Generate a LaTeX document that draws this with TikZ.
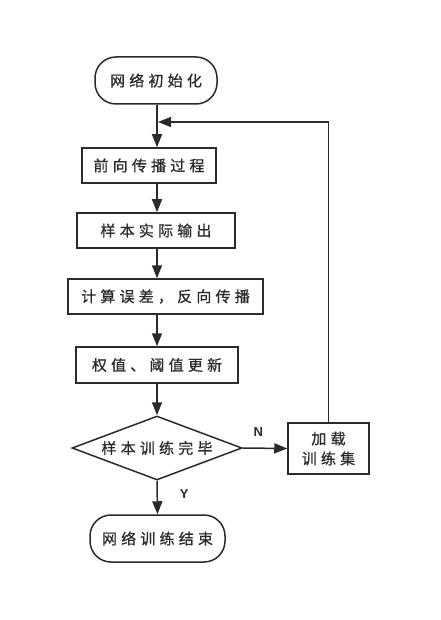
\documentclass[tikz,border=0pt]{standalone}
\usepackage{fontspec}
\usetikzlibrary{shapes.geometric,arrows.meta}
\newfontfamily\cjk[LetterSpace=28,FakeBold=0.8]{Noto Sans CJK SC}
\newfontfamily\lbl{Liberation Sans}
\definecolor{ink}{HTML}{2B2B2B}
\tikzset{
  base/.style={draw=ink, line width=1.5pt, text=ink, font=\cjk\fontsize{15}{20}\selectfont, inner sep=0pt, align=center},
  procbox/.style={base, rectangle, minimum height=35pt},
  termbox/.style={base, rectangle, rounded corners=21pt, minimum height=47pt},
  decbox/.style={base, diamond, aspect=2.7, minimum width=170pt, minimum height=64pt},
  flow/.style={draw=ink, line width=1.5pt, -{Triangle[length=13pt,width=10pt]}},
  yn/.style={text=ink, font=\lbl\bfseries\fontsize{13}{14}\selectfont, inner sep=0pt}
}
\begin{document}
\begin{tikzpicture}[x=1pt,y=1pt]
\useasboundingbox[fill=white] (0,0) rectangle (440,-620);
\coordinate (spine) at (157,0);
\node[termbox, minimum width=122pt] (start) at (156,-80.5) {网络初始化};
\node[procbox, minimum width=134pt] (b1) at (149,-165.5) {前向传播过程};
\node[procbox, minimum width=158pt] (b2) at (156,-230.5) {样本实际输出};
\node[procbox, minimum width=195pt] (b3) at (165.5,-296.5) {计算误差，反向传播};
\node[procbox, minimum width=162pt, minimum height=36pt] (b4) at (157,-365) {权值、阈值更新};
\node[decbox] (dec) at (157,-448) {样本训练完毕};
\node[procbox, minimum width=81pt, minimum height=51pt] (load) at (328.5,-448.5) {加载\\训练集};
\node[termbox, minimum width=135pt] (finish) at (157.5,-538.5) {网络训练结束};
\coordinate (fb) at (158,-122);
\draw[flow] (start.south -| spine) -- (b1.north -| spine);
\draw[flow] (b1.south -| spine) -- (b2.north -| spine);
\draw[flow] (b2.south -| spine) -- (b3.north -| spine);
\draw[flow] (b3.south -| spine) -- (b4.north -| spine);
\draw[flow] (b4.south -| spine) -- (dec.north);
\draw[flow] (dec.east) -- node[yn, above=11pt, pos=0.35] (nlab) {N} (load.west);
\draw[flow] (dec.south) -- node[yn, right=22pt, pos=0.4] (ylab) {Y} (finish.north);
\draw[flow] (load.north) |- (fb);
\end{tikzpicture}
\end{document}
